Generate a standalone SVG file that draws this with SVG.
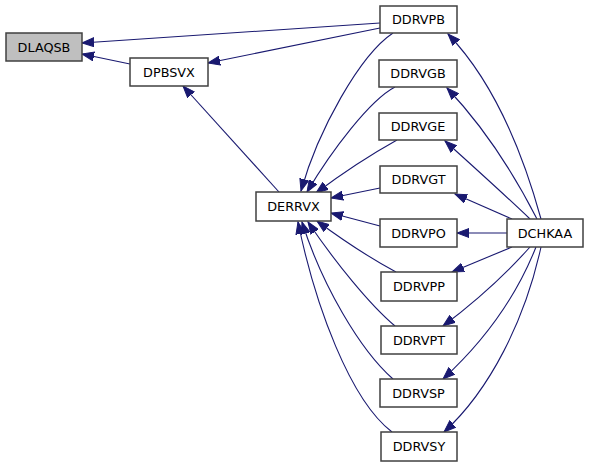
<svg xmlns="http://www.w3.org/2000/svg" width="589" height="467" viewBox="0 0 589 467">
<style>
.n rect{fill:#ffffff;stroke:#404040;stroke-width:1.5}
.n text{font-family:"DejaVu Sans",sans-serif;font-size:12.8px;text-anchor:middle;fill:#000000}
.e path{fill:none;stroke:#191970;stroke-width:1.1;marker-end:url(#ah)}
</style>
<defs>
<marker id="ah" markerUnits="userSpaceOnUse" markerWidth="14" markerHeight="10" refX="12" refY="5" orient="auto">
<path d="M0,0.5 L12,5 L0,9.5 z" fill="#191970" stroke="#191970" stroke-width="1"/>
</marker>
</defs>
<rect width="589" height="467" fill="#ffffff"/>
<g id="connectors" class="e">
<path d="M380,23 L82,43"/>
<path d="M130,64 L82,54"/>
<path d="M380,28 L208,63"/>
<path d="M279,192 L183,86"/>
<path d="M393,33 C360,55 318,130 301,191"/>
<path d="M395,87 C370,100 332,150 307,192"/>
<path d="M397,140 C370,155 340,175 316,193"/>
<path d="M380,188 L331,198"/>
<path d="M380,226 L331,213"/>
<path d="M396,272 C370,258 340,238 317,221"/>
<path d="M395,326 C370,305 335,262 308,222"/>
<path d="M393,379 C360,350 322,285 302,222"/>
<path d="M392,432 C350,400 315,305 298,222"/>
<path d="M541,219 C522,150 492,80 448,34"/>
<path d="M537,219 C512,170 482,125 447,88"/>
<path d="M530,219 C505,195 475,168 445,141"/>
<path d="M512,219 L455,194"/>
<path d="M507,233 L457,233"/>
<path d="M512,247 L452,272"/>
<path d="M530,247 C505,275 475,302 443,326"/>
<path d="M536,247 C515,300 480,345 443,379"/>
<path d="M541,247 C525,320 490,390 444,432"/>
</g>
<g id="DLAQSB" class="n"><rect x="6" y="33" width="76" height="28" style="fill:#bfbfbf"/><text x="44" y="51.5">DLAQSB</text></g>
<g id="DPBSVX" class="n"><rect x="130" y="58" width="78" height="28"/><text x="169" y="76.5">DPBSVX</text></g>
<g id="DDRVPB" class="n"><rect x="380" y="6" width="77" height="27"/><text x="418.5" y="24">DDRVPB</text></g>
<g id="DDRVGB" class="n"><rect x="379" y="60" width="78" height="27"/><text x="418" y="78">DDRVGB</text></g>
<g id="DDRVGE" class="n"><rect x="379" y="113" width="78" height="27"/><text x="418" y="131">DDRVGE</text></g>
<g id="DDRVGT" class="n"><rect x="380" y="166" width="77" height="27"/><text x="418.5" y="184">DDRVGT</text></g>
<g id="DERRVX" class="n"><rect x="256" y="192" width="75" height="29"/><text x="293.5" y="211">DERRVX</text></g>
<g id="DDRVPO" class="n"><rect x="380" y="219" width="77" height="28"/><text x="418.5" y="237.5">DDRVPO</text></g>
<g id="DDRVPP" class="n"><rect x="381" y="272" width="76" height="29"/><text x="419" y="291">DDRVPP</text></g>
<g id="DDRVPT" class="n"><rect x="381" y="326" width="76" height="28"/><text x="419" y="344.5">DDRVPT</text></g>
<g id="DDRVSP" class="n"><rect x="380" y="379" width="77" height="28"/><text x="418.5" y="397.5">DDRVSP</text></g>
<g id="DDRVSY" class="n"><rect x="381" y="432" width="76" height="29"/><text x="419" y="451">DDRVSY</text></g>
<g id="DCHKAA" class="n"><rect x="507" y="219" width="76" height="28"/><text x="545" y="237.5">DCHKAA</text></g>
</svg>
